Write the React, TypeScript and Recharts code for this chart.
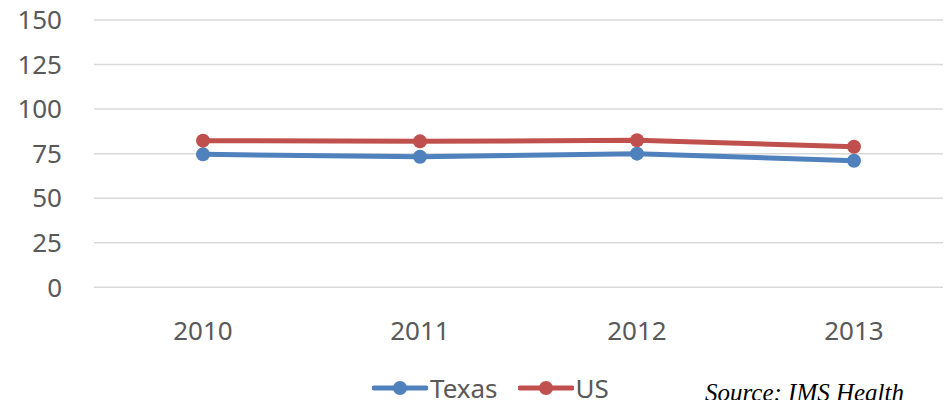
import React from 'react';
import { LineChart, Line, XAxis, YAxis, CartesianGrid, Legend } from 'recharts';

const years = ['2010', '2011', '2012', '2013'];
const texas = [74.6, 73.3, 75.0, 71.0];
const us = [82.3, 81.9, 82.5, 78.9];
const yTicks = [0, 25, 50, 75, 100, 125, 150];

const BLUE = '#4F81BD';
const RED = '#C0504D';
const TEXT = '#595959';
const FONT = '"Noto Sans", sans-serif';

const data = years.map((year, i) => ({ year, Texas: texas[i], US: us[i] }));

const LegendContent = () => {
    const items = [
        { name: 'Texas', color: BLUE },
        { name: 'US', color: RED },
    ];
    return (
        <div style={{ display: 'flex', alignItems: 'center', height: 32 }}>
            {items.map((it) => (
                <div key={it.name} style={{ display: 'flex', alignItems: 'center', marginRight: 20 }}>
                    <svg width={56} height={20}>
                        <line x1={2} y1={10} x2={54} y2={10} stroke={it.color} strokeWidth={5} strokeLinecap="round" />
                        <circle cx={28} cy={10} r={7} fill={it.color} />
                    </svg>
                    <span style={{ fontFamily: FONT, fontSize: 26, color: TEXT, marginLeft: 2, lineHeight: '32px' }}>{it.name}</span>
                </div>
            ))}
        </div>
    );
};

export default function App() {
    return (
        <div style={{ position: 'relative', margin: -8, width: 951, height: 408, overflow: 'hidden', background: '#fff' }}>
            <LineChart width={962} height={408} data={data} margin={{ top: 20, right: 0, bottom: 0, left: 0 }}>
                <CartesianGrid vertical={false} stroke="#D9D9D9" strokeWidth={1.5} />
                <XAxis
                    dataKey="year"
                    axisLine={false}
                    tickLine={false}
                    height={88.7}
                    tickMargin={28}
                    padding={{ left: 109, right: 108 }}
                    tick={{ fill: TEXT, fontSize: 26, fontFamily: FONT }}
                />
                <YAxis
                    domain={[0, 150]}
                    ticks={yTicks}
                    axisLine={false}
                    tickLine={false}
                    width={94}
                    tickMargin={26}
                    tick={{ fill: TEXT, fontSize: 26, fontFamily: FONT }}
                />
                <Legend
                    verticalAlign="bottom"
                    height={32}
                    content={<LegendContent />}
                    wrapperStyle={{ left: 372, width: 300, top: 372, bottom: 'auto' }}
                />
                <Line
                    dataKey="Texas"
                    stroke={BLUE}
                    strokeWidth={5}
                    dot={{ r: 7, fill: BLUE, stroke: BLUE, strokeWidth: 0 }}
                    isAnimationActive={false}
                />
                <Line
                    dataKey="US"
                    stroke={RED}
                    strokeWidth={5}
                    dot={{ r: 7, fill: RED, stroke: RED, strokeWidth: 0 }}
                    isAnimationActive={false}
                />
            </LineChart>
            <div
                style={{
                    position: 'absolute',
                    left: 705,
                    top: 380,
                    fontFamily: '"Liberation Serif", serif',
                    fontStyle: 'italic',
                    fontSize: 25,
                    lineHeight: 1,
                    color: '#000',
                    whiteSpace: 'nowrap',
                }}
            >
                Source: IMS Health
            </div>
        </div>
    );
}
